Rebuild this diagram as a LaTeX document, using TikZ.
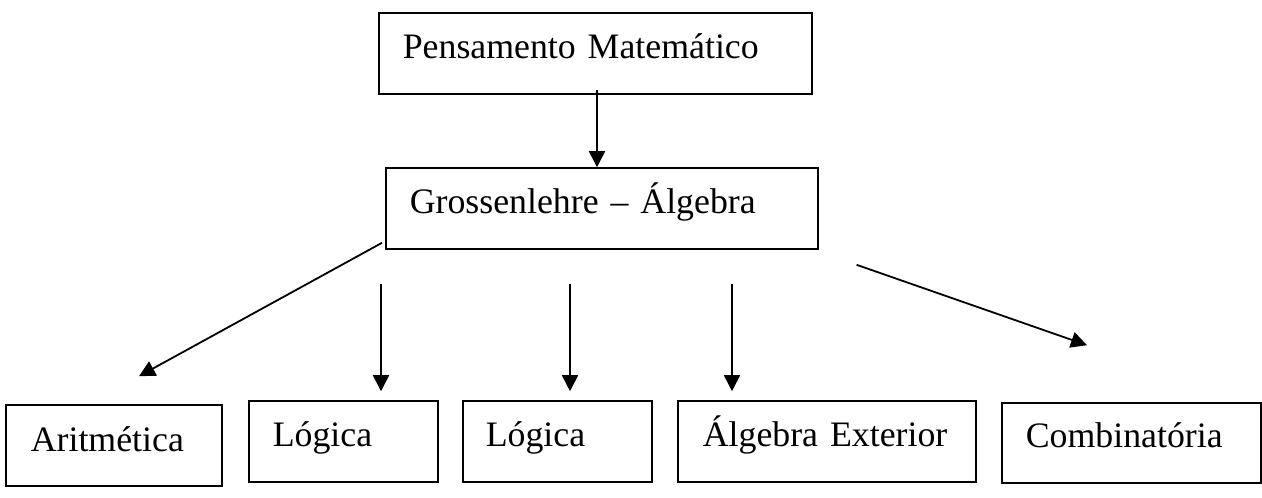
\documentclass[tikz,border=0pt]{standalone}
\usepackage{fontspec}
\setmainfont{Liberation Serif}
\usetikzlibrary{arrows.meta}
\begin{document}
\begin{tikzpicture}[x=1pt,y=1pt,
  box/.style={draw=black, line width=1.6pt, anchor=base west, inner ysep=0pt,
    align=left, font=\fontsize{35.8}{43}\selectfont, text height=45pt, text depth=36pt},
  arr/.style={draw=black, line width=1.8pt, -{Triangle[length=16pt,width=16pt]}}]
\useasboundingbox (0,0) rectangle (1262,-498);
% boxes: anchor at (left edge, baseline)
\node[box, inner xsep=24pt, text width=385pt] (P) at (378,-58) {Pensamento Matemático};
\node[box, inner xsep=24pt, text width=384pt] (G) at (385,-213) {Grossenlehre – Álgebra};
\node[box, inner xsep=25pt, text width=166pt, text height=46pt, text depth=35pt] (A) at (5,-451) {Aritmética};
\node[box, inner xsep=24pt, text width=141pt] (L1) at (248,-446) {Lógica};
\node[box, inner xsep=23pt, text width=143pt] (L2) at (462,-446) {Lógica};
\node[box, inner xsep=25pt, text width=248pt] (E) at (677,-446) {Álgebra Exterior};
\node[box, inner xsep=24pt, text width=211pt, text height=44pt] (C) at (1001,-447) {Combinatória};
% connectors
\draw[arr] ([xshift=219pt,yshift=5pt]P.south west) -- ([xshift=212pt]G.north west);
\draw[arr] ([xshift=-3pt,yshift=7pt]G.south west) -- ([xshift=134pt,yshift=28pt]A.north west);
\draw[arr] ([xshift=-4pt,yshift=-34pt]G.south west) -- ([xshift=133pt,yshift=9pt]L1.north west);
\draw[arr] ([xshift=185pt,yshift=-34pt]G.south west) -- ([xshift=108pt,yshift=9pt]L2.north west);
\draw[arr] ([xshift=347pt,yshift=-34pt]G.south west) -- ([xshift=55pt,yshift=9pt]E.north west);
\draw[arr] ([xshift=38pt,yshift=-15pt]G.south east) -- ([xshift=86pt,yshift=57pt]C.north west);
\end{tikzpicture}
\end{document}
